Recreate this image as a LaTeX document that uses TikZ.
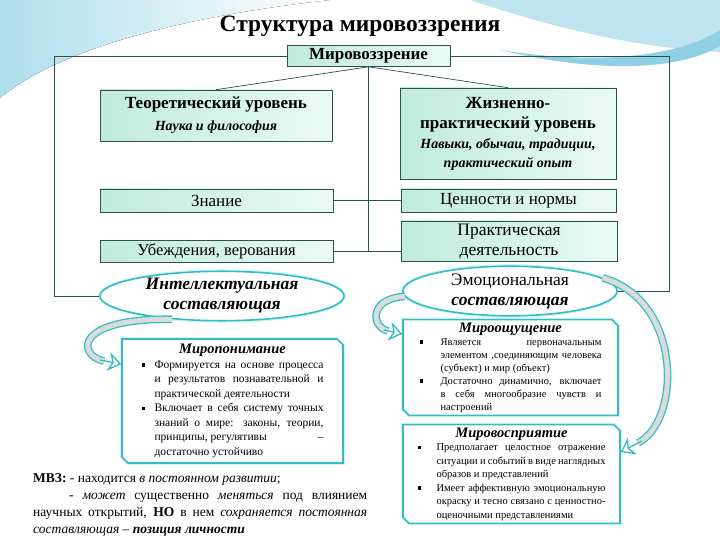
\documentclass[tikz,border=0pt]{standalone}
\usepackage{fontspec}
\setmainfont{Liberation Serif}
\usetikzlibrary{shapes.geometric,shapes.misc,arrows.meta}
\definecolor{boxline}{RGB}{45,80,80}
\definecolor{mintA}{RGB}{192,235,220}
\definecolor{mintB}{RGB}{234,250,244}
\definecolor{aqua}{RGB}{48,190,196}
\definecolor{skyA}{RGB}{175,222,236}
\definecolor{skyB}{RGB}{95,188,216}
\newcommand{\fs}[2]{\fontsize{#1}{#2}\selectfont}
\newcommand{\bul}[1]{\noindent\hangindent=#1\hangafter=1\makebox[#1][l]{\rule[1.5pt]{3.5pt}{3.5pt}}}
\begin{document}
\begin{tikzpicture}[x=1pt,y=-1pt,
    lvlbox/.style={draw=boxline, line width=0.6pt, left color=mintA, right color=mintB,
      inner sep=0pt, align=center},
    oval/.style={ellipse, draw=aqua, line width=1.6pt, fill=white, inner sep=0pt, align=center,
      preaction={draw=aqua!20, line width=4pt}},
    cutbox/.style={chamfered rectangle, chamfered rectangle corners={north east,south west},
      draw=aqua, line width=1.6pt, fill=white, inner sep=0pt, align=justify,
      preaction={draw=aqua!20, line width=4pt}},
    link/.style={draw=boxline, line width=0.7pt},
    bigarrow/.style={draw=aqua, line width=1.3pt, double=gray!28, double distance=5pt},
    arrowhead/.style={draw=aqua, line width=1.3pt, -{Stealth[width=19pt,length=13pt,inset=4pt,fill=white]}}]
    \useasboundingbox (0,0) rectangle (720,540);

    % Background waves
    \fill[left color=skyA, right color=white] (0,0) -- (330,0) .. controls (220,12) and (70,40) .. (0,98) -- cycle;
    \fill[skyA!80] (470,0) .. controls (560,30) and (640,48) .. (720,52) -- (720,0) -- cycle;
    \fill[skyB!70] (500,50) .. controls (600,66) and (680,56) .. (720,30) -- (720,46) .. controls (680,70) and (600,74) .. (500,50);

    % Title
    \node (title) at (360,26) {\fs{23.5}{26}\bfseries Структура мировоззрения};

    % Levels
    \node[lvlbox, minimum width=163, minimum height=21] (world) at (368.5,56) {\fs{17}{19}\bfseries Мировоззрение};
    \node[lvlbox, minimum width=232, minimum height=51, font=\fs{17}{21}] (theory) at (216,115.5)
      {\bfseries Теоретический уровень\\[1pt] \fs{14}{16}\bfseries\itshape Наука и философия};
    \node[lvlbox, minimum width=216, minimum height=91, font=\fs{17}{20}] (life) at (508,133.5)
      {\bfseries Жизненно-\\ \bfseries практический уровень\\ \fs{14}{18}\bfseries\itshape Навыки, обычаи, традиции,\\[-1pt] \fs{14}{18}\bfseries\itshape практический опыт};
    \node[lvlbox, minimum width=233, minimum height=23, font=\fs{17}{19}] (know) at (216.5,200.5) {Знание};
    \node[lvlbox, minimum width=215, minimum height=23, font=\fs{17}{19}] (norms) at (508.5,200.5) {Ценности и нормы};
    \node[lvlbox, minimum width=233, minimum height=22, font=\fs{16.5}{19}] (belief) at (216.5,251) {Убеждения, верования};
    \node[lvlbox, minimum width=216, minimum height=40, font=\fs{17.5}{20}] (action) at (509,241) {Практическая\\ деятельность};

    % Components
    \node[oval, minimum width=244, minimum height=46, font=\fs{17.5}{20}] (intel) at (222,296)
      {\bfseries\itshape Интеллектуальная\\ \bfseries\itshape составляющая};
    \node[oval, minimum width=214, minimum height=48, font=\fs{17.5}{20}] (emo) at (510,291)
      {Эмоциональная\\ \bfseries\itshape составляющая};

    % Links
    \draw[link] (world.south) -- (theory.north);
    \draw[link] (world.south) -- (life.north);
    \draw[link] (world.south) -- (world.south |- belief.east);
    \draw[link] (know.east) -- (norms.west);
    \draw[link] (belief.east) -- (belief.east -| action.west);
    \draw[link] (world.west) -| ([xshift=-45pt]intel.west) -- (intel.west);
    \draw[link] (world.east) -| ([xshift=52pt]emo.east) -- (emo.east);

    % Details
    \node[cutbox, minimum width=221, minimum height=124, text width=182] (mind) at (232.5,401)
      {\fs{11.5}{14.5}\makebox[\linewidth]{\fs{14.5}{15}\bfseries\itshape Миропонимание}\par
       \bul{13pt}Формируется на основе процесса и результатов познавательной и практической деятельности\par
       \bul{13pt}Включает в себя систему точных знаний о мире: законы, теории, принципы, регулятивы \hfill– достаточно устойчиво\par};
    \node[cutbox, minimum width=215, minimum height=89, text width=182] (feel) at (510.5,367.5)
      {\fs{10.5}{13}\makebox[\linewidth]{\fs{14.5}{15}\bfseries\itshape Мироощущение}\par
       \bul{21pt}Является первоначальным\linebreak элементом ,соединяющим человека (субъект) и мир (объект)\par
       \bul{21pt}Достаточно динамично, включает в себя многообразие чувств и настроений\par};
    \node[cutbox, minimum width=217, minimum height=92, text width=188] (sense) at (511.5,474)
      {\fs{10.5}{13.5}\makebox[\linewidth]{\fs{14.5}{15}\bfseries\itshape Мировосприятие}\par
       \bul{19pt}Предполагает целостное отражение ситуации и событий в виде наглядных образов и представлений\par
       \bul{19pt}Имеет аффективную эмоциональную окраску и тесно связано с ценностно-оценочными представлениями\par};

    % Curved arrows
    \draw[bigarrow] (intel.205) .. controls (72,318) and (78,356) .. (104,361);
    \draw[arrowhead] (100,360) -- (mind.west |- 0,364);
    \draw[bigarrow] (emo.183) .. controls (370,298) and (370,326) .. (388,331);
    \draw[arrowhead] (384,330) -- (feel.west |- 0,334);
    \draw[bigarrow] (emo.8) .. controls (682,300) and (682,420) .. (638,443);
    \draw[arrowhead] (642,441) -- (sense.east |- 0,452);

    % Note
    \node[anchor=north west, text width=334, align=justify, inner sep=0pt] (note) at (33,473)
      {\fs{13.5}{17}\textbf{МВЗ:} - находится \textit{в постоянном развитии};\par
       \hspace*{36pt}- \textit{может} существенно \textit{меняться} под влиянием\linebreak
       научных открытий, \textbf{НО} в нем \textit{сохраняется постоянная}\linebreak
       \textit{составляющая} – \textbf{\textit{позиция личности}}\par};
\end{tikzpicture}
\end{document}
